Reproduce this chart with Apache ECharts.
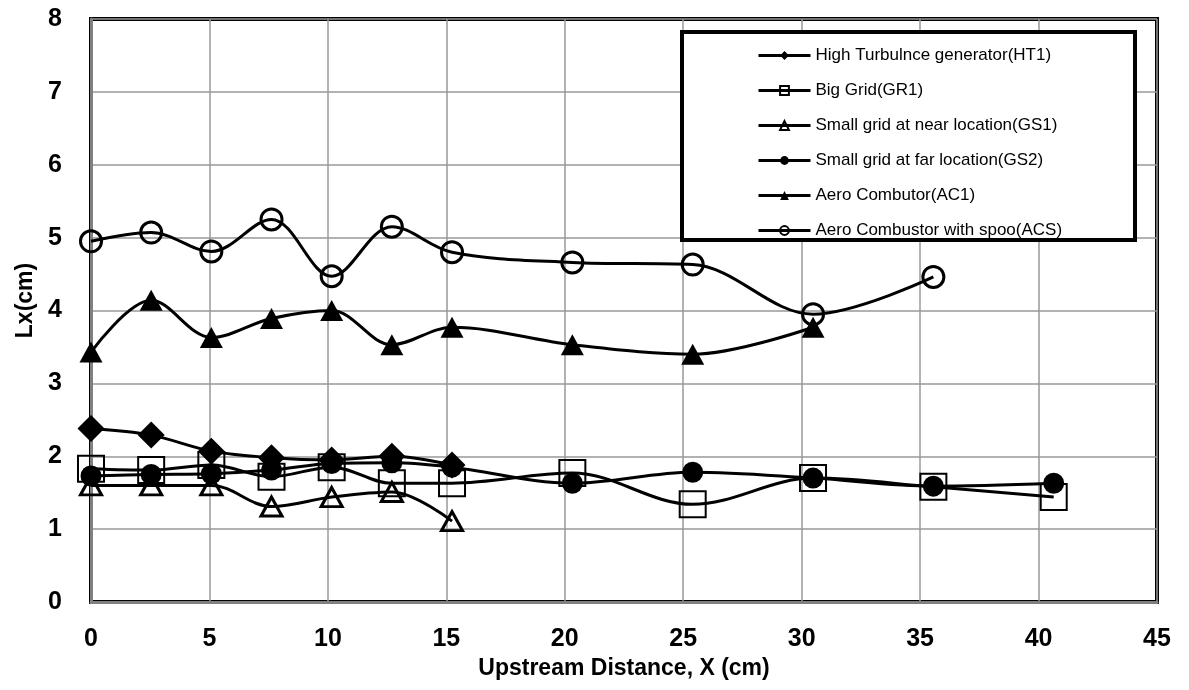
<!DOCTYPE html>
<html>
<head>
<meta charset="utf-8">
<script src="https://cdn.jsdelivr.net/npm/echarts@6/dist/echarts.min.js"></script>
<style>html,body{margin:0;padding:0;background:#fff;}#chart{width:1189px;height:690px;}</style>
</head>
<body>
<div id="chart"></div>
<script>
const xPositions = [0, 2.54, 5.08, 7.62, 10.16, 12.7, 15.24, 20.32, 25.4, 30.48, 35.56, 40.64];
const seriesNames = [
  'High Turbulnce generator(HT1)',
  'Big Grid(GR1)',
  'Small grid at near location(GS1)',
  'Small grid at far location(GS2)',
  'Aero Combutor(AC1)',
  'Aero Combustor with spoo(ACS)'
];
const ht1 = [2.38, 2.29, 2.07, 1.98, 1.95, 2.0, 1.88];
const gr1 = [1.83, 1.81, 1.88, 1.72, 1.85, 1.63, 1.63, 1.77, 1.34, 1.70, 1.58, 1.44];
const gs1 = [1.6, 1.6, 1.6, 1.31, 1.44, 1.51, 1.11];
const gs2 = [1.73, 1.75, 1.76, 1.81, 1.90, 1.91, 1.85, 1.63, 1.78, 1.70, 1.59, 1.63];
const ac1 = [3.43, 4.14, 3.63, 3.89, 4.0, 3.53, 3.77, 3.53, 3.40, 3.77];
const acs = [4.95, 5.07, 4.81, 5.25, 4.47, 5.15, 4.80, 4.66, 4.63, 3.95, 4.46];
const xTicks = [0, 5, 10, 15, 20, 25, 30, 35, 40, 45];
const yTicks = [0, 1, 2, 3, 4, 5, 6, 7, 8];

const FONT = "'Liberation Sans Narrow', 'Arial Narrow', 'Liberation Sans', Arial, sans-serif";
function pairs(vals) { return vals.map((v, i) => [xPositions[i], v]); }

const styles = [
  { symbol: 'diamond', size: [27, 27], fill: '#000', border: 0 },
  { symbol: 'rect', size: [26, 26], fill: 'rgba(0,0,0,0)', border: 2 },
  { symbol: 'triangle', size: [21, 19], fill: 'rgba(0,0,0,0)', border: 3 },
  { symbol: 'circle', size: 21, fill: '#000', border: 0 },
  { symbol: 'triangle', size: [23, 21], fill: '#000', border: 0 },
  { symbol: 'circle', size: 21, fill: 'rgba(0,0,0,0)', border: 3 }
];
const allData = [ht1, gr1, gs1, gs2, ac1, acs];

const chart = echarts.init(document.getElementById('chart'), null, { renderer: 'canvas' });
const option = {
  animation: false,
  backgroundColor: '#fff',
  grid: { left: 91, top: 19, right: 32, bottom: 88, show: true, borderColor: '#000', borderWidth: 4, containLabel: false },
  xAxis: {
    type: 'value', min: 0, max: 45, interval: 5,
    name: 'Upstream Distance, X (cm)', nameLocation: 'middle', nameGap: 52,
    nameTextStyle: { fontFamily: FONT, fontWeight: 'bold', fontSize: 23, color: '#000' },
    axisLine: { show: true, onZero: false, lineStyle: { color: '#808080', width: 3 } },
    axisTick: { show: false },
    axisLabel: { fontFamily: FONT, fontWeight: 'bold', fontSize: 25, color: '#000', margin: 25,
      formatter: v => xTicks.includes(v) ? String(v) : '' },
    splitLine: { show: true, lineStyle: { color: '#999', width: 1.5 } }
  },
  yAxis: {
    type: 'value', min: 0, max: 8, interval: 1,
    name: 'Lx(cm)', nameLocation: 'middle', nameGap: 42, nameRotate: 90,
    nameTextStyle: { fontFamily: FONT, fontWeight: 'bold', fontSize: 23, color: '#000', padding: [0, 0, 0, 20] },
    axisLine: { show: true, onZero: false, lineStyle: { color: '#808080', width: 3 } },
    axisTick: { show: false },
    axisLabel: { fontFamily: FONT, fontWeight: 'bold', fontSize: 25, color: '#000', margin: 29,
      formatter: v => yTicks.includes(v) ? String(v) : '' },
    splitLine: { show: true, lineStyle: { color: '#999', width: 1.5 } }
  },
  legend: {
    orient: 'vertical', left: 752, top: 41, z: 20,
    itemWidth: 52, itemHeight: 11, itemGap: 16,
    lineStyle: { width: 3 },
    textStyle: { fontFamily: FONT, fontSize: 17, color: '#000', lineHeight: 19 },
    data: seriesNames
  },
  graphic: [{
    type: 'rect', z: 10, silent: true,
    shape: { x: 682, y: 32, width: 453, height: 208 },
    style: { fill: '#fff', stroke: '#000', lineWidth: 4 }
  }],
  series: allData.map((vals, i) => ({
    name: seriesNames[i],
    type: 'line',
    data: pairs(vals),
    smooth: 0.35,
    symbol: styles[i].symbol,
    symbolSize: styles[i].size,
    showAllSymbol: true,
    lineStyle: { color: '#000', width: 3 },
    itemStyle: { color: styles[i].fill, borderColor: '#000', borderWidth: styles[i].border },
    emphasis: { disabled: true },
    z: 2 + i
  }))
};
chart.setOption(option);
</script>
</body>
</html>
